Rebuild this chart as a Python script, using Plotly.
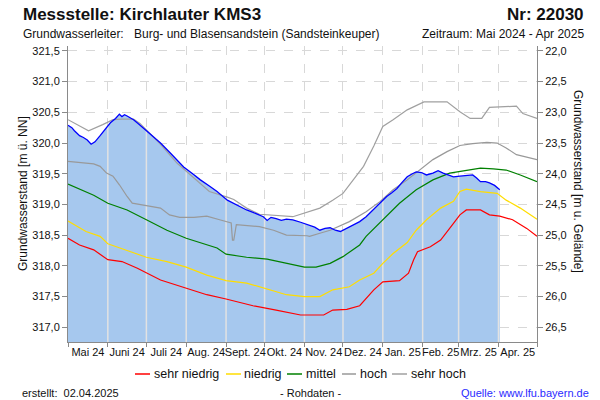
import numpy as np
import pandas as pd
import plotly.graph_objects as go

# ---------------- data ----------------
START = pd.Timestamp("2024-05-01")
END = pd.Timestamp("2025-05-01")
GROUND = 343.5  # Geländehöhe [m ü. NN]

month_labels = ["Mai 24", "Juni 24", "Juli 24", "Aug. 24", "Sept. 24", "Okt. 24",
                "Nov. 24", "Dez. 24", "Jan. 25", "Feb. 25", "Mrz. 25", "Apr. 25"]

# measured groundwater level (days after 2024-05-01)
mess_days = [0, 3, 5, 9, 12, 15, 18, 21, 25, 29, 33, 37, 40, 42, 44, 46, 51, 55, 59, 65,
             72, 80, 90, 97, 103, 110, 116, 124, 131, 139, 144, 149, 152, 155, 158, 162,
             166, 170, 175, 181, 187, 192, 196, 200, 204, 208, 212, 216, 219, 223, 227,
             232, 236, 240, 244, 248, 252, 256, 260, 264, 268, 271, 275, 279, 284, 288,
             292, 296, 300, 305, 310, 315, 318, 321, 325, 328, 332, 336]
mess_vals = [320.29, 320.25, 320.20, 320.12, 320.09, 320.05, 319.98, 320.02, 320.12, 320.22,
             320.33, 320.40, 320.47, 320.43, 320.46, 320.44, 320.38, 320.31, 320.24, 320.13,
             320.00, 319.83, 319.61, 319.50, 319.40, 319.30, 319.21, 319.07, 318.99, 318.91,
             318.87, 318.83, 318.80, 318.74, 318.79, 318.77, 318.74, 318.76, 318.75, 318.71,
             318.67, 318.63, 318.58, 318.61, 318.62, 318.58, 318.56, 318.60, 318.64, 318.67,
             318.72, 318.80, 318.88, 318.96, 319.05, 319.13, 319.19, 319.26, 319.36, 319.45,
             319.50, 319.53, 319.52, 319.48, 319.51, 319.55, 319.51, 319.48, 319.45, 319.46,
             319.47, 319.48, 319.43, 319.37, 319.37, 319.35, 319.31, 319.24]

sehr_niedrig_days = [0, 9, 20, 31, 42, 54, 72, 92, 108, 123, 144, 162, 181, 199, 206, 217,
                     227, 238, 245, 258, 265, 269, 272, 282, 290, 300, 305, 310, 321, 328,
                     336, 346, 357, 365]
sehr_niedrig_vals = [318.45, 318.34, 318.26, 318.10, 318.07, 317.96, 317.77, 317.64, 317.53,
                     317.46, 317.35, 317.28, 317.20, 317.20, 317.28, 317.29, 317.35, 317.61,
                     317.74, 317.76, 317.88, 318.10, 318.23, 318.31, 318.42, 318.69, 318.83,
                     318.91, 318.91, 318.83, 318.81, 318.75, 318.61, 318.48]

niedrig_days = [0, 14, 25, 31, 46, 61, 77, 92, 108, 123, 139, 155, 170, 184, 196, 206, 219,
                227, 238, 245, 253, 264, 271, 279, 290, 300, 305, 310, 321, 334, 341, 352,
                362, 365]
niedrig_vals = [318.73, 318.56, 318.48, 318.36, 318.25, 318.14, 318.07, 317.98, 317.85,
                317.76, 317.72, 317.62, 317.53, 317.50, 317.50, 317.61, 317.66, 317.77,
                317.88, 318.04, 318.20, 318.38, 318.58, 318.75, 318.94, 319.05, 319.21,
                319.25, 319.21, 319.18, 319.07, 318.94, 318.80, 318.76]

mittel_days = [0, 20, 31, 46, 61, 77, 92, 108, 116, 123, 139, 155, 170, 184, 193, 204, 214,
               222, 227, 232, 245, 258, 271, 284, 297, 310, 321, 331, 341, 352, 365]
mittel_vals = [319.33, 319.15, 319.02, 318.91, 318.75, 318.58, 318.45, 318.34, 318.29,
               318.19, 318.14, 318.11, 318.04, 317.98, 317.98, 318.04, 318.15, 318.26,
               318.34, 318.48, 318.75, 319.02, 319.24, 319.40, 319.51, 319.56, 319.59,
               319.58, 319.56, 319.48, 319.37]

hoch_days = [0, 20, 25, 30, 35, 40, 46, 50, 61, 72, 79, 87, 98, 108, 118, 125, 127, 128,
             129, 131, 149, 160, 170, 186, 188, 196, 204, 219, 232, 243, 253, 264, 274, 284,
             295, 305, 315, 326, 334, 341, 349, 362, 365]
hoch_vals = [319.70, 319.66, 319.62, 319.51, 319.46, 319.32, 319.13, 319.02, 318.98, 318.94,
             318.83, 318.79, 318.79, 318.81, 318.75, 318.72, 318.70, 318.42, 318.42, 318.67,
             318.64, 318.58, 318.50, 318.49, 318.48, 318.53, 318.58, 318.72, 318.88, 319.05,
             319.24, 319.40, 319.56, 319.73, 319.86, 319.96, 319.99, 320.01, 320.00, 319.92,
             319.81, 319.75, 319.73]

sehr_hoch_days = [0, 16, 27, 35, 42, 51, 56, 72, 85, 98, 110, 124, 129, 139, 149, 175, 186,
                  196, 206, 214, 222, 230, 238, 245, 253, 264, 277, 295, 305, 313, 322, 328,
                  349, 354, 365]
sehr_hoch_vals = [320.38, 320.20, 320.30, 320.38, 320.39, 320.39, 320.32, 319.98, 319.67,
                  319.43, 319.21, 319.12, 319.08, 318.94, 318.84, 318.80, 318.87, 318.94,
                  319.07, 319.18, 319.40, 319.62, 319.95, 320.27, 320.38, 320.54, 320.67,
                  320.67, 320.51, 320.40, 320.40, 320.58, 320.60, 320.48, 320.40]

# ---------------- helpers ----------------
def to_dates(days):
    return [START + pd.Timedelta(days=int(d)) for d in days]

Y_MIN, Y_MAX = 316.76, 321.58
L, R, T, B = 68, 537, 46, 342  # plot area in pixels


def px(x):
    return (x - L) / (R - L)


def py(y):
    return (B - y) / (B - T)


FONT = "Liberation Sans, Arial, Helvetica, sans-serif"

fig = go.Figure()

# measured area
fig.add_trace(go.Scatter(x=to_dates(mess_days), y=mess_vals, mode="lines",
                         line=dict(width=0, color="#a6c8ee"), fill="tozeroy",
                         fillcolor="#a6c8ee", hoverinfo="skip"))

# light month separators inside the filled area
month_starts = pd.date_range(START, END, freq="MS")
mess_num = np.array(mess_days, dtype=float)
sep_x, sep_y = [], []
for ms in month_starts[1:]:
    dd = (ms - START).days
    if dd <= mess_days[-1]:
        top = float(np.interp(dd, mess_num, mess_vals))
        sep_x += [ms, ms, None]
        sep_y += [Y_MIN, top, None]
fig.add_trace(go.Scatter(x=sep_x, y=sep_y, mode="lines",
                         line=dict(color="#e2e2e2", width=1.5), hoverinfo="skip"))

series = [
    ("sehr niedrig", sehr_niedrig_days, sehr_niedrig_vals, "#ff0000"),
    ("niedrig", niedrig_days, niedrig_vals, "#ffdd00"),
    ("mittel", mittel_days, mittel_vals, "#008000"),
    ("hoch", hoch_days, hoch_vals, "#999999"),
    ("sehr hoch", sehr_hoch_days, sehr_hoch_vals, "#a0a0a0"),
]
for name, dd, vv, col in series:
    fig.add_trace(go.Scatter(x=to_dates(dd), y=vv, mode="lines", name=name,
                             line=dict(color=col, width=1.2)))

# measured line
fig.add_trace(go.Scatter(x=to_dates(mess_days), y=mess_vals, mode="lines",
                         line=dict(color="#0000ff", width=1.3)))

# invisible trace on depth axis
fig.add_trace(go.Scatter(x=to_dates(mess_days), y=[GROUND - v for v in mess_vals],
                         yaxis="y2", mode="lines", line=dict(width=0),
                         opacity=0, hoverinfo="skip"))

# tick label positions (middle of each month)
mid_months = [ms + (me - ms) / 2 for ms, me in zip(month_starts[:-1], month_starts[1:])]

axis_grey = "#8a8a8a"
grid_grey = "#d8d8d8"

fig.update_layout(
    width=600, height=400,
    margin=dict(l=L, r=600 - R, t=T, b=400 - B, autoexpand=False),
    paper_bgcolor="white", plot_bgcolor="white",
    showlegend=False, separators=",.",
    font=dict(family=FONT, size=11, color="#111111"),
    xaxis=dict(type="date", range=[START, END], tickmode="array",
               tickvals=mid_months, ticktext=month_labels, ticks="", tickangle=0,
               showgrid=False, zeroline=False, showline=True, linecolor=axis_grey,
               tickfont=dict(size=11, color="#111111"),
               minor=dict(dtick="M1", tick0="2024-05-01", ticks="outside", ticklen=4,
                          tickcolor=axis_grey, showgrid=True, gridcolor=grid_grey,
                          griddash="dash", gridwidth=1)),
    yaxis=dict(range=[Y_MIN, Y_MAX], tick0=317, dtick=0.5, tickformat=".1f",
               ticks="outside", ticklen=5, tickcolor=axis_grey, showline=True,
               linecolor=axis_grey, showgrid=True, gridcolor=grid_grey, griddash="dash",
               zeroline=False, tickfont=dict(size=11, color="#111111")),
    yaxis2=dict(overlaying="y", side="right", range=[GROUND - Y_MIN, GROUND - Y_MAX],
                tick0=22, dtick=0.5, tickformat=".1f", ticks="outside", ticklen=5,
                tickcolor=axis_grey, showline=True, linecolor=axis_grey, showgrid=False,
                zeroline=False, tickfont=dict(size=11, color="#111111")),
)

ann = []


def text(x, y, s, size=12, anchor="left", color="#111111", angle=0):
    ann.append(dict(x=px(x), y=py(y), xref="paper", yref="paper", text=s,
                    showarrow=False, xanchor=anchor, yanchor="middle", textangle=angle,
                    font=dict(family=FONT, size=size, color=color)))


text(21, 15, "<b>Messstelle: Kirchlauter KMS3</b>", size=17)
text(586, 15, "<b>Nr: 22030</b>", size=17, anchor="right")
text(21, 34, "Grundwasserleiter:", size=12)
text(132, 34, "Burg- und Blasensandstein (Sandsteinkeuper)", size=12)
text(586, 34, "Zeitraum: Mai 2024 - Apr 2025", size=12, anchor="right")
text(23, 194, "Grundwasserstand [m ü. NN]", size=12, anchor="center", angle=-90)
text(578, 181, "Grundwasserstand [m u. Gelände]", size=12, anchor="center", angle=90)
text(20, 393, "erstellt:  02.04.2025", size=11)
text(310, 393, "- Rohdaten -", size=11, anchor="center")
text(591, 393, "Quelle: www.lfu.bayern.de", size=11, anchor="right", color="#2a2aff")

shapes = []
legend_pos = [(135, 150, 152), (226, 241, 242), (287, 302, 304), (342, 356, 358), (392, 407, 409)]
for (name, _, _, col), (x0, x1, xt) in zip(series, legend_pos):
    shapes.append(dict(type="line", xref="paper", yref="paper", x0=px(x0), x1=px(x1),
                       y0=py(374), y1=py(374), line=dict(color=col, width=1.5)))
    text(xt, 374, name, size=12.5)

fig.update_layout(annotations=ann, shapes=shapes)

fig.write_html("out.html", config={"displayModeBar": False},
               post_script="document.body.style.margin='0';document.body.style.overflow='hidden';")
